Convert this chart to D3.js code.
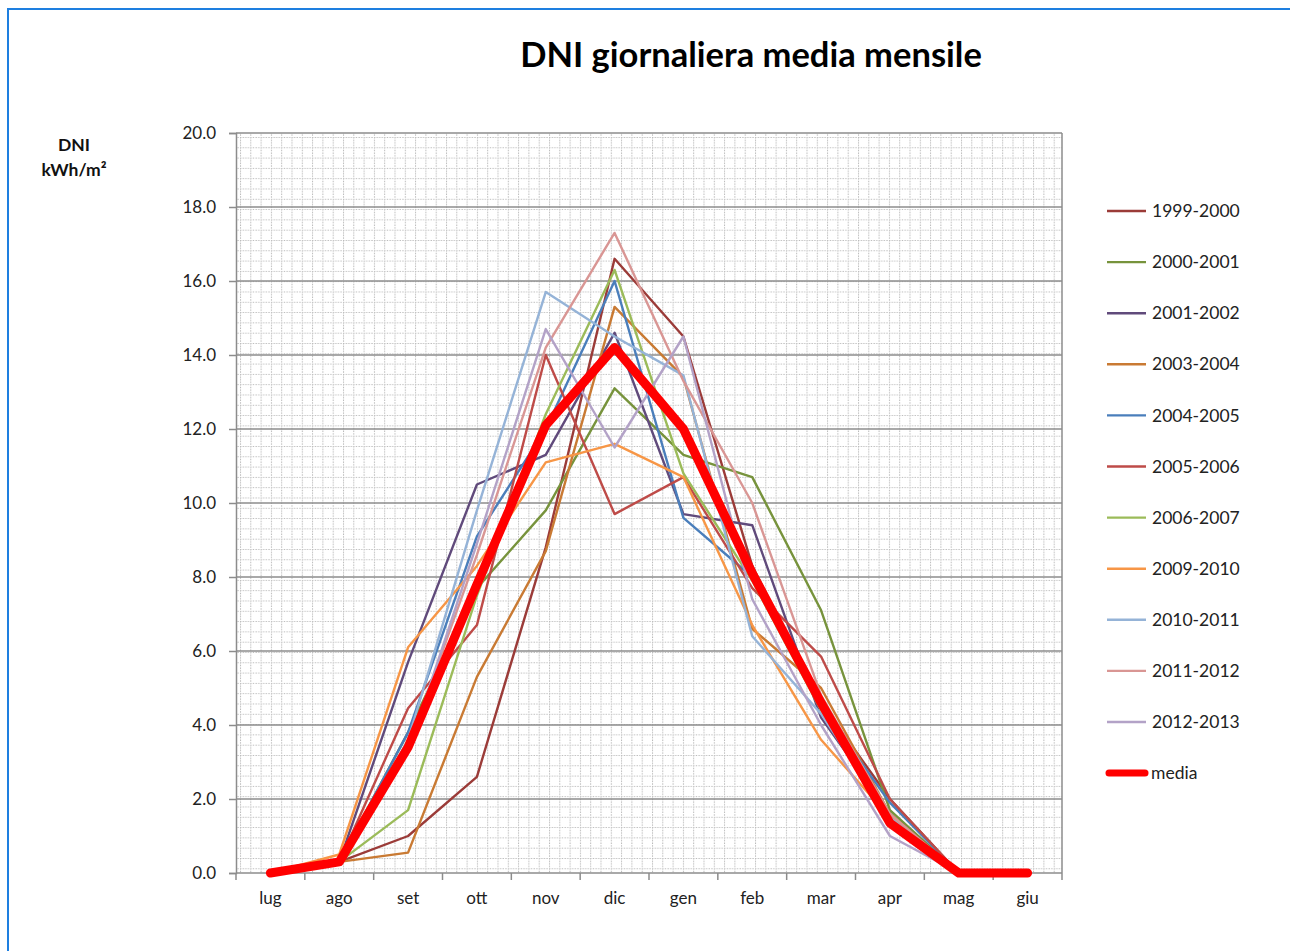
<!DOCTYPE html>
<html lang="it">
<head>
  <meta charset="UTF-8">
  <title>DNI giornaliera media mensile</title>
  <style>
    body { margin: 0; background: #fff; }
    text { font-family: Lato, "Open Sans", sans-serif; }
  </style>
</head>
<body>
  <svg id="mainsvg" width="1290" height="951"></svg>
  <script src="https://cdn.jsdelivr.net/npm/d3@7"></script>
  <script>
    // mesi (luglio -> giugno)
    const months = ['lug', 'ago', 'set', 'ott', 'nov', 'dic', 'gen', 'feb', 'mar', 'apr', 'mag', 'giu']
    const yTicks = [0, 2, 4, 6, 8, 10, 12, 14, 16, 18, 20]

    // valori (kWh/m2 al giorno)
    const s1999 = [0, 0.3, 1.0, 2.6, 8.8, 16.6, 14.5, 8.3, 4.6, 2.0, 0, 0]
    const s2000 = [0, 0.3, 3.8, 7.7, 9.8, 13.1, 11.3, 10.7, 7.1, 1.7, 0, 0]
    const s2001 = [0, 0.3, 5.7, 10.5, 11.3, 14.6, 9.7, 9.4, 4.2, 1.6, 0, 0]
    const s2003 = [0, 0.3, 0.55, 5.3, 8.7, 15.3, 13.4, 6.6, 5.0, 1.6, 0, 0]
    const s2004 = [0, 0.3, 3.8, 9.1, 12.0, 16.0, 9.6, 8.0, 4.5, 1.9, 0, 0]
    const s2005 = [0, 0.3, 4.45, 6.7, 14.0, 9.7, 10.7, 7.7, 5.85, 2.0, 0, 0]
    const s2006 = [0, 0.3, 1.7, 7.5, 12.4, 16.3, 10.8, 7.9, 4.4, 1.5, 0, 0]
    const s2009 = [0, 0.5, 6.1, 8.3, 11.1, 11.6, 10.7, 6.7, 3.6, 1.5, 0, 0]
    const s2010 = [0, 0.3, 3.6, 9.8, 15.7, 14.5, 13.45, 6.4, 4.3, 1.5, 0, 0]
    const s2011 = [0, 0.3, 3.4, 8.6, 14.2, 17.3, 13.3, 10.0, 4.8, 1.6, 0, 0]
    const s2012 = [0, 0.3, 3.3, 8.9, 14.7, 11.5, 14.5, 7.4, 4.0, 1.0, 0, 0]
    const media = [0, 0.3, 3.4, 7.8, 12.1, 14.2, 12.0, 8.1, 4.6, 1.35, 0, 0]

    const seriesNames = ['1999-2000', '2000-2001', '2001-2002', '2003-2004', '2004-2005', '2005-2006',
      '2006-2007', '2009-2010', '2010-2011', '2011-2012', '2012-2013', 'media']
    const seriesValues = [s1999, s2000, s2001, s2003, s2004, s2005, s2006, s2009, s2010, s2011, s2012, media]
    const seriesColors = ['#9B3B38', '#77933C', '#604A7B', '#C97A33', '#4A7EBB', '#BE4B48',
      '#9BBB59', '#F79646', '#95B3D7', '#D99694', '#B3A2C7', '#FF0000']

    const svg = d3.select('#mainsvg')

    // cornice blu esterna
    svg.append('rect')
      .attr('x', 8).attr('y', 9).attr('width', 1300).attr('height', 960)
      .attr('fill', '#fff').attr('stroke', '#1E7FE0').attr('stroke-width', 2)

    const plot = { left: 236, right: 1062, top: 133, bottom: 873 }

    const x = d3.scaleBand().domain(months).range([plot.left, plot.right])
    const y = d3.scaleLinear().domain([0, 20]).range([plot.bottom, plot.top])
    const cx = m => x(m) + x.bandwidth() / 2

    // griglia punteggiata di sfondo
    const defs = svg.append('defs')
    const pat = defs.append('pattern')
      .attr('id', 'dots').attr('patternUnits', 'userSpaceOnUse')
      .attr('width', 10.3).attr('height', 10.3)
      .attr('x', plot.left + 4).attr('y', plot.top + 4)
    pat.append('line').attr('x1', 0).attr('x2', 10.3).attr('y1', 0.5).attr('y2', 0.5)
      .attr('stroke', '#b8b8b8').attr('stroke-width', 1).attr('stroke-dasharray', '1.3,1.3')
    pat.append('line').attr('x1', 0.5).attr('x2', 0.5).attr('y1', 0).attr('y2', 10.3)
      .attr('stroke', '#b8b8b8').attr('stroke-width', 1).attr('stroke-dasharray', '1.3,1.3')

    svg.append('rect')
      .attr('x', plot.left).attr('y', plot.top)
      .attr('width', plot.right - plot.left).attr('height', plot.bottom - plot.top)
      .attr('fill', 'url(#dots)')

    // griglia principale
    svg.append('g').selectAll('line')
      .data(yTicks.slice(1))
      .join('line')
      .attr('x1', plot.left).attr('x2', plot.right)
      .attr('y1', d => y(d)).attr('y2', d => y(d))
      .attr('stroke', '#8c8c8c').attr('stroke-width', 1.5)

    // bordo destro dell'area
    svg.append('line')
      .attr('x1', plot.right).attr('x2', plot.right)
      .attr('y1', plot.top).attr('y2', plot.bottom)
      .attr('stroke', '#8c8c8c').attr('stroke-width', 1.5)

    // asse y
    const yAxis = d3.axisLeft(y).tickValues(yTicks).tickFormat(d3.format('.1f')).tickSize(7).tickPadding(13)
    const gy = svg.append('g').attr('transform', `translate(${plot.left}, 0)`).call(yAxis)
    gy.select('.domain').attr('stroke', '#8c8c8c').attr('stroke-width', 1.5)
    gy.selectAll('.tick line').attr('stroke', '#8c8c8c').attr('stroke-width', 1.5)
    gy.selectAll('.tick text').attr('font-size', 17).attr('fill', '#222')
      .style('font-family', 'Lato, sans-serif')

    // asse x
    const xAxis = d3.axisBottom(x).tickSize(0).tickPadding(19)
    const gx = svg.append('g').attr('transform', `translate(0, ${plot.bottom})`).call(xAxis)
    gx.select('.domain').remove()
    gx.selectAll('.tick text').attr('font-size', 17).attr('fill', '#222')
      .style('font-family', 'Lato, sans-serif')
    gx.append('line').attr('x1', plot.left).attr('x2', plot.right)
      .attr('stroke', '#8c8c8c').attr('stroke-width', 1.5)
    gx.selectAll('.sep')
      .data(months.map(m => x(m)).concat([plot.right]))
      .join('line').attr('class', 'sep')
      .attr('x1', d => d).attr('x2', d => d).attr('y1', 0).attr('y2', 7)
      .attr('stroke', '#8c8c8c').attr('stroke-width', 1.5)

    // linee
    const line = d3.line().x((d, i) => cx(months[i])).y(d => y(d))
    seriesValues.forEach((vals, i) => {
      const isMedia = seriesNames[i] === 'media'
      svg.append('path')
        .datum(vals)
        .attr('d', line)
        .attr('fill', 'none')
        .attr('stroke', seriesColors[i])
        .attr('stroke-width', isMedia ? 9 : 2.4)
        .attr('stroke-linejoin', 'round')
        .attr('stroke-linecap', isMedia ? 'round' : 'butt')
    })

    // legenda
    const legend = svg.append('g')
    seriesNames.forEach((name, i) => {
      const ly = 211 + i * 51.1
      const isMedia = name === 'media'
      legend.append('line')
        .attr('x1', isMedia ? 1109 : 1107).attr('x2', isMedia ? 1145 : 1146)
        .attr('y1', ly).attr('y2', ly)
        .attr('stroke', seriesColors[i])
        .attr('stroke-width', isMedia ? 7 : 2.4)
        .attr('stroke-linecap', isMedia ? 'round' : 'butt')
      legend.append('text')
        .attr('x', isMedia ? 1151 : 1152).attr('y', ly)
        .attr('dy', '0.35em')
        .attr('font-size', 17.5).attr('fill', '#222')
        .text(name)
    })

    // titolo
    svg.append('text')
      .attr('x', 751).attr('y', 67)
      .attr('text-anchor', 'middle')
      .attr('font-size', 34.5).attr('font-weight', 'bold').attr('fill', '#000')
      .text('DNI giornaliera media mensile')

    // etichetta asse y
    svg.append('text')
      .attr('x', 74).attr('y', 151)
      .attr('text-anchor', 'middle')
      .attr('font-size', 17.5).attr('font-weight', 'bold').attr('fill', '#111')
      .text('DNI')
    svg.append('text')
      .attr('x', 74).attr('y', 176)
      .attr('text-anchor', 'middle')
      .attr('font-size', 17.5).attr('font-weight', 'bold').attr('fill', '#111')
      .text('kWh/m²')
  </script>
</body>
</html>
